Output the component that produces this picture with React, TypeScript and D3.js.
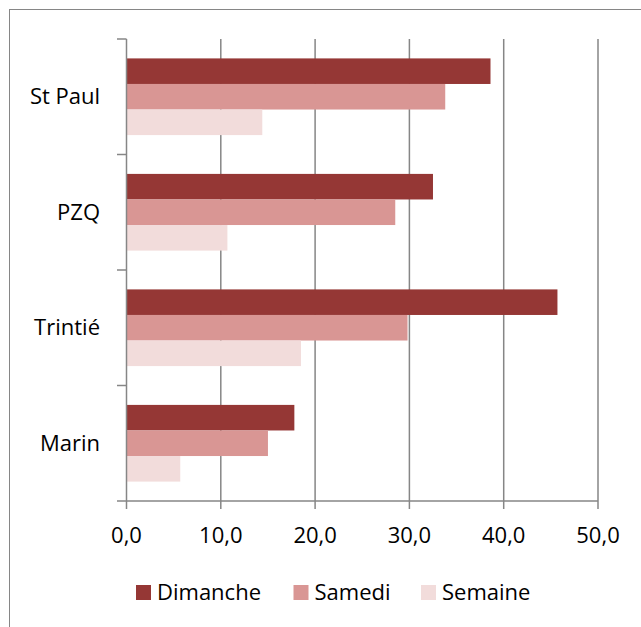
import React, { useEffect, useRef } from "react";
import * as d3 from "d3";

const categories = ["St Paul", "PZQ", "Trintié", "Marin"];
const seriesNames = ["Dimanche", "Samedi", "Semaine"];
const dimanche = [38.6, 32.5, 45.7, 17.8];
const samedi = [33.8, 28.5, 29.8, 15.0];
const semaine = [14.4, 10.7, 18.5, 5.7];
const xTicks = [0, 10, 20, 30, 40, 50];
const colors = ["#953735", "#D99694", "#F2DCDB"];

const FONT = "'Open Sans', sans-serif";

export default function App() {
  const ref = useRef<SVGSVGElement>(null);

  useEffect(() => {
    const svg = d3.select(ref.current);
    svg.selectAll("*").remove();

    const values = [dimanche, samedi, semaine];

    // outer chart border (cropped on the right and bottom)
    svg.append("rect")
      .attr("x", 9.5).attr("y", 9.5)
      .attr("width", 700).attr("height", 700)
      .attr("fill", "#fff")
      .attr("stroke", "#868686")
      .attr("stroke-width", 1);

    const x = d3.scaleLinear().domain([0, 50]).range([126.5, 598]);
    const y = d3.scaleBand<string>()
      .domain(categories)
      .range([39, 501])
      .paddingInner(0.336)
      .paddingOuter(0.168);
    const sub = d3.scaleBand<string>()
      .domain(seriesNames)
      .range([0, y.bandwidth()]);

    // gridlines
    svg.append("g")
      .selectAll("line")
      .data(xTicks.slice(1))
      .enter()
      .append("line")
      .attr("x1", d => x(d)).attr("x2", d => x(d))
      .attr("y1", 39).attr("y2", 501)
      .attr("stroke", "#868686")
      .attr("stroke-width", 1.5);

    // bars
    seriesNames.forEach((s, si) => {
      svg.append("g")
        .selectAll("rect")
        .data(categories)
        .enter()
        .append("rect")
        .attr("x", x(0))
        .attr("y", c => (y(c) as number) + (sub(s) as number))
        .attr("width", (c, i) => x(values[si][i]) - x(0))
        .attr("height", sub.bandwidth())
        .attr("fill", colors[si]);
    });

    // y axis
    const yTickPos = categories.map(c => (y(c) as number) - y.step() * y.paddingInner() / 2);
    yTickPos.push(501);
    const ya = svg.append("g");
    ya.append("line")
      .attr("x1", x(0)).attr("x2", x(0))
      .attr("y1", 39).attr("y2", 501)
      .attr("stroke", "#868686").attr("stroke-width", 1.5);
    ya.selectAll(".tk")
      .data(yTickPos)
      .enter()
      .append("line")
      .attr("x1", 117).attr("x2", x(0))
      .attr("y1", d => d).attr("y2", d => d)
      .attr("stroke", "#868686").attr("stroke-width", 1.5);
    ya.selectAll("text")
      .data(categories)
      .enter()
      .append("text")
      .attr("x", 100)
      .attr("y", c => (y(c) as number) + y.bandwidth() / 2)
      .attr("dy", "0.35em")
      .attr("text-anchor", "end")
      .attr("font-family", FONT)
      .attr("font-size", 22)
      .attr("fill", "#000")
      .text(c => c);

    // x axis
    const xa = svg.append("g");
    xa.append("line")
      .attr("x1", x(0)).attr("x2", x(50))
      .attr("y1", 501).attr("y2", 501)
      .attr("stroke", "#868686").attr("stroke-width", 1.5);
    xa.selectAll(".tk")
      .data(xTicks)
      .enter()
      .append("line")
      .attr("x1", d => x(d)).attr("x2", d => x(d))
      .attr("y1", 501).attr("y2", 509)
      .attr("stroke", "#868686").attr("stroke-width", 1.5);
    xa.selectAll("text")
      .data(xTicks)
      .enter()
      .append("text")
      .attr("x", d => x(d))
      .attr("y", 543)
      .attr("text-anchor", "middle")
      .attr("font-family", FONT)
      .attr("font-size", 22)
      .attr("fill", "#000")
      .text(d => d.toFixed(1).replace(".", ","));

    // legend
    const legX = [136, 293.5, 421];
    const lg = svg.append("g");
    seriesNames.forEach((s, i) => {
      lg.append("rect")
        .attr("x", legX[i]).attr("y", 585)
        .attr("width", 15).attr("height", 15)
        .attr("fill", colors[i]);
      lg.append("text")
        .attr("x", legX[i] + 21).attr("y", 600)
        .attr("font-family", FONT)
        .attr("font-size", 22)
        .attr("fill", "#000")
        .text(s);
    });
  }, []);

  return (
    <svg
      ref={ref}
      width={641}
      height={627}
      style={{ position: "absolute", left: 0, top: 0, display: "block" }}
    />
  );
}
